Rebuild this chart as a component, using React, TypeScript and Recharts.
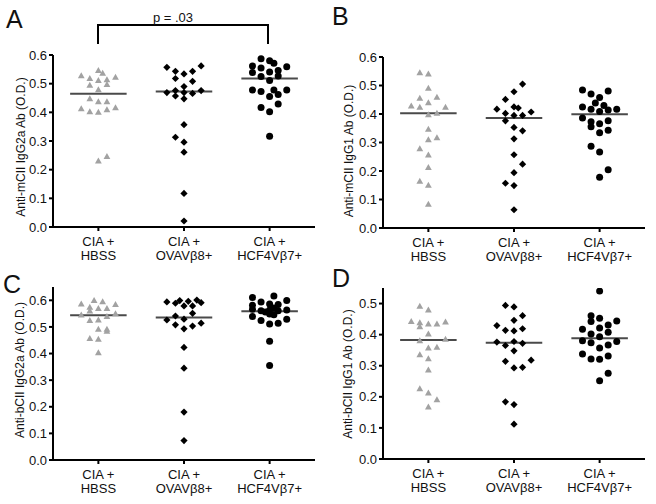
import React from "react";
import {
  ScatterChart,
  Scatter,
  XAxis,
  YAxis,
  ReferenceLine,
  Label,
} from "recharts";

// group labels (two lines under each tick)
const catLine1 = ["CIA +", "CIA +", "CIA +"];
const catLine2 = ["HBSS", "OVAVβ8+", "HCF4Vβ7+"];

// lane = horizontal scatter position within a column, in tenths of a category
// Panel A: anti-mCII IgG2a
const aHbssY = [0.527, 0.518, 0.546, 0.536, 0.513, 0.522, 0.494, 0.511, 0.497, 0.478, 0.447, 0.437, 0.437, 0.412, 0.402, 0.4, 0.409, 0.416, 0.23, 0.246];
const aHbssLane = [-2, -1, 0, 0.5, 1, 2, -1, 0, 1, 0, -1, 0, 1, -2, -1, 0, 1, 2, 0, 1];
const aOvaY = [0.557, 0.543, 0.534, 0.543, 0.562, 0.518, 0.508, 0.49, 0.469, 0.476, 0.469, 0.466, 0.476, 0.457, 0.447, 0.357, 0.313, 0.296, 0.261, 0.117, 0.021];
const aOvaLane = [-2, -1, 0, 1, 2, -1, 1, 0, -2, -1, 0, 1, 2, -1, 0, 0, -1, 0, 0, 0, 0];
const aHcfY = [0.587, 0.58, 0.571, 0.562, 0.555, 0.559, 0.539, 0.525, 0.541, 0.546, 0.527, 0.511, 0.478, 0.473, 0.478, 0.478, 0.462, 0.455, 0.429, 0.417, 0.402, 0.317];
const aHcfLane = [-1, 0, 0.5, -2, -1, 2, -2, -1, 0, 1, 1, 0, -2, -1, 0.5, 2, 1, 0, 1, -1, 0, 0];
const aMeans = [0.465, 0.473, 0.518];

// Panel B: anti-mCII IgG1
const bHbssY = [0.544, 0.54, 0.49, 0.455, 0.458, 0.439, 0.428, 0.423, 0.423, 0.397, 0.402, 0.346, 0.309, 0.316, 0.278, 0.256, 0.212, 0.164, 0.15, 0.083];
const bHbssLane = [-1, 0, 0, -1, 1, 0, -2, -1, 2, 0, 1, 0, 0, 1, -1, 0, 0, -1, 0, 0];
const bOvaY = [0.505, 0.478, 0.451, 0.425, 0.417, 0.421, 0.402, 0.395, 0.407, 0.395, 0.376, 0.353, 0.341, 0.313, 0.257, 0.224, 0.194, 0.157, 0.149, 0.064];
const bOvaLane = [1, 0, -1, 0, -2, 0.5, -1, 0, 2, 1, -1, 0, 1, 0, 0, 1, 0, -1, 0, 0];
const bHcfY = [0.484, 0.47, 0.458, 0.481, 0.425, 0.417, 0.439, 0.43, 0.409, 0.414, 0.417, 0.386, 0.373, 0.355, 0.366, 0.376, 0.334, 0.343, 0.287, 0.267, 0.204, 0.178];
const bHcfLane = [-2, -1, 0, 1, -2, -1, -0.5, 0.5, 0, 1, 2, -2, -1, -1, 0, 1, 0, 1, -1, 0, 1, 0];
const bMeans = [0.403, 0.386, 0.399];

// Panel C: anti-bCII IgG2a
const cHbssY = [0.586, 0.599, 0.594, 0.584, 0.574, 0.569, 0.569, 0.559, 0.544, 0.539, 0.549, 0.524, 0.526, 0.491, 0.491, 0.483, 0.456, 0.453, 0.403];
const cHbssLane = [-2, -0.5, 0.5, 2, -1, 0, 1, -1, -2, 1, 2, -1, 0, 0, 1, 1, -1, 0, 0];
const cOvaY = [0.594, 0.589, 0.599, 0.596, 0.601, 0.591, 0.579, 0.579, 0.551, 0.541, 0.526, 0.529, 0.508, 0.503, 0.514, 0.493, 0.423, 0.345, 0.18, 0.073];
const cOvaLane = [-2, -1, -0.5, 0.5, 1.5, 2, 0, 1, 1, -1, -2, 0, -1, 1, 2, 0, 0, 0, 0, 0];
const cHcfY = [0.611, 0.616, 0.594, 0.586, 0.584, 0.599, 0.581, 0.566, 0.561, 0.556, 0.564, 0.571, 0.561, 0.564, 0.539, 0.524, 0.511, 0.514, 0.529, 0.549, 0.546, 0.446, 0.355];
const cHcfLane = [-2, 0.5, -1, 0, 1, 2, -2, -2, -1, -0.5, 0, 0.5, 1, 2, -2, -1, 0, 1, 2, 0, 0.5, 0, 0];
const cMeans = [0.544, 0.535, 0.559];

// Panel D: anti-bCII IgG1
const dHbssY = [0.491, 0.479, 0.442, 0.438, 0.425, 0.434, 0.434, 0.44, 0.402, 0.38, 0.385, 0.357, 0.359, 0.335, 0.322, 0.286, 0.226, 0.212, 0.19, 0.167];
const dHbssLane = [-1, 0, -2, -1, -1, 0, 1, 2, 0, -1, 2, 0, 1, -1, 0, 0, -1, 0, 1, 0];
const dOvaY = [0.494, 0.489, 0.461, 0.446, 0.429, 0.414, 0.412, 0.419, 0.376, 0.365, 0.378, 0.372, 0.348, 0.314, 0.318, 0.293, 0.295, 0.184, 0.175, 0.112];
const dOvaLane = [-1, 0, 1, 0, -2, -1, 0, 1, -2, -1, 0, 1, 0, -1, 2, 0, 1, -1, 0, 0];
const dHcfY = [0.54, 0.461, 0.453, 0.442, 0.444, 0.417, 0.421, 0.431, 0.402, 0.408, 0.38, 0.374, 0.393, 0.378, 0.357, 0.367, 0.338, 0.322, 0.321, 0.331, 0.276, 0.252];
const dHcfLane = [0, -1, 0, -1, 2, -2, 0, 1, -1, 1, -2, -1, 0, 2, 0, 1, -2, -1, 0, 1, 1, 0];
const dMeans = [0.383, 0.374, 0.388];

const ticks06 = [0, 0.1, 0.2, 0.3, 0.4, 0.5, 0.6];
const ticks05 = [0, 0.1, 0.2, 0.3, 0.4, 0.5];

const FONT = '"Liberation Sans", Arial, Helvetica, sans-serif';
const INK = "#111";

const toPts = (group: number, ys: number[], lanes: number[]) =>
  ys.map((y, i) => ({ x: group + lanes[i] * 0.1, y }));

const Tri = (p: any) => (
  <polygon
    points={`${p.cx},${p.cy - 3.6} ${p.cx + 3.4},${p.cy + 2.4} ${p.cx - 3.4},${p.cy + 2.4}`}
    fill="#a2a2a2"
  />
);
const Dia = (p: any) => (
  <polygon
    points={`${p.cx},${p.cy - 3.6} ${p.cx + 3.6},${p.cy} ${p.cx},${p.cy + 3.6} ${p.cx - 3.6},${p.cy}`}
    fill="#000"
  />
);
const Dot = (p: any) => <circle cx={p.cx} cy={p.cy} r={3.5} fill="#000" />;

const CatTick = (p: any) => {
  const i = Math.round(p.payload.value) - 1;
  return (
    <text x={p.x} y={p.y} textAnchor="middle" fontSize={13} fill={INK} fontFamily={FONT}>
      <tspan x={p.x} dy={13}>{catLine1[i]}</tspan>
      <tspan x={p.x} dy={14}>{catLine2[i]}</tspan>
    </text>
  );
};

type PanelProps = {
  left: number;
  top: number;
  width: number;
  height: number;
  margin: { top: number; right: number; bottom: number; left: number };
  yMax: number;
  yTicks: number[];
  yLabel: string;
  labelX: number;
  labelY: number;
  groups: [number[], number[]][];
  means: number[];
};

const Panel = (props: PanelProps) => {
  const { groups, means } = props;
  const shapes = [Tri, Dia, Dot];
  const axisLine = { stroke: "#000", strokeWidth: 2 };
  return (
    <div style={{ position: "absolute", left: props.left, top: props.top }}>
      <ScatterChart width={props.width} height={props.height} margin={props.margin}>
        <XAxis
          type="number"
          dataKey="x"
          domain={[0.47, 3.53]}
          ticks={[1, 2, 3]}
          interval={0}
          allowDataOverflow
          height={40}
          tickSize={4}
          tickMargin={2}
          axisLine={axisLine}
          tickLine={axisLine}
          tick={(p: any) => <CatTick {...p} />}
        />
        <YAxis
          type="number"
          dataKey="y"
          domain={[0, props.yMax]}
          ticks={props.yTicks}
          interval={0}
          allowDataOverflow
          width={53}
          tickSize={4}
          tickMargin={2}
          axisLine={axisLine}
          tickLine={axisLine}
          tickFormatter={(v: number) => v.toFixed(1)}
          tick={{ fontSize: 13, fill: INK, fontFamily: FONT }}
        >
          <Label
            content={() => (
              <text
                x={props.labelX}
                y={props.labelY}
                transform={`rotate(-90 ${props.labelX} ${props.labelY})`}
                textAnchor="middle"
                fontSize={12}
                fill={INK}
                fontFamily={FONT}
              >
                {props.yLabel}
              </text>
            )}
          />
        </YAxis>
        {groups.map(([ys, lanes], g) => (
          <Scatter
            key={g}
            data={toPts(g + 1, ys, lanes)}
            shape={shapes[g]}
            isAnimationActive={false}
          />
        ))}
        {means.map((m, g) => (
          <ReferenceLine
            key={"m" + g}
            segment={[
              { x: g + 1 - 0.33, y: m },
              { x: g + 1 + 0.33, y: m },
            ]}
            stroke="#4a4a4a"
            strokeWidth={2}
          />
        ))}
      </ScatterChart>
    </div>
  );
};

export default function App() {
  return (
    <div
      style={{
        position: "absolute",
        left: 0,
        top: 0,
        width: 656,
        height: 504,
        background: "#fff",
        fontFamily: FONT,
      }}
    >
      <Panel
        left={0}
        top={0}
        width={330}
        height={270}
        margin={{ top: 55, right: 15, bottom: 3, left: 0 }}
        yMax={0.6}
        yTicks={ticks06}
        yLabel="Anti-mCII IgG2a Ab (O.D.)"
        labelX={25}
        labelY={147}
        groups={[
          [aHbssY, aHbssLane],
          [aOvaY, aOvaLane],
          [aHcfY, aHcfLane],
        ]}
        means={aMeans}
      />
      <Panel
        left={330}
        top={0}
        width={326}
        height={270}
        margin={{ top: 57, right: 11, bottom: 2, left: 0 }}
        yMax={0.6}
        yTicks={ticks06}
        yLabel="Anti-mCII IgG1 Ab (O.D.)"
        labelX={23}
        labelY={151}
        groups={[
          [bHbssY, bHbssLane],
          [bOvaY, bOvaLane],
          [bHcfY, bHcfLane],
        ]}
        means={bMeans}
      />
      <Panel
        left={0}
        top={250}
        width={330}
        height={254}
        margin={{ top: 37, right: 15, bottom: 4, left: 0 }}
        yMax={0.65}
        yTicks={ticks06}
        yLabel="Anti-bCII IgG2a Ab (O.D.)"
        labelX={24}
        labelY={120}
        groups={[
          [cHbssY, cHbssLane],
          [cOvaY, cOvaLane],
          [cHcfY, cHcfLane],
        ]}
        means={cMeans}
      />
      <Panel
        left={330}
        top={250}
        width={326}
        height={254}
        margin={{ top: 38, right: 11, bottom: 5, left: 0 }}
        yMax={0.55}
        yTicks={ticks05}
        yLabel="Anti-bCII IgG1 Ab (O.D.)"
        labelX={22}
        labelY={124}
        groups={[
          [dHbssY, dHbssLane],
          [dOvaY, dOvaLane],
          [dHcfY, dHcfLane],
        ]}
        means={dMeans}
      />

      {/* panel letters and significance bracket */}
      <svg
        width={656}
        height={504}
        style={{ position: "absolute", left: 0, top: 0, pointerEvents: "none" }}
      >
        <g fontFamily={FONT} fontSize={25} fill={INK}>
          <text x={6} y={28}>A</text>
          <text x={332} y={25}>B</text>
          <text x={3} y={293}>C</text>
          <text x={332} y={287}>D</text>
        </g>
        <path d="M98 44 V25 H268 V44" fill="none" stroke="#000" strokeWidth={2} />
        <text x={173} y={22} textAnchor="middle" fontSize={13} fill={INK} fontFamily={FONT}>
          p = .03
        </text>
      </svg>
    </div>
  );
}
